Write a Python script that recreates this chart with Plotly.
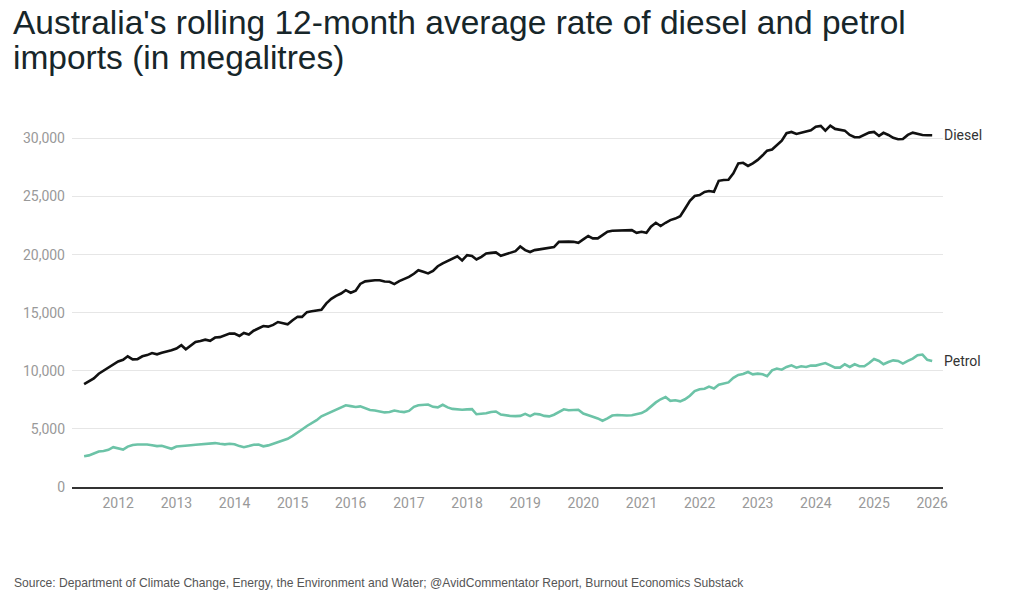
import pandas as pd
import plotly.graph_objects as go

# Monthly, Jun 2011 - Jan 2026
months = pd.date_range("2011-06-01", periods=176, freq="MS")

diesel = [
    8850, 9100, 9350, 9750, 10000, 10300, 10550, 10800, 10950, 11250, 10980, 11000,
    11250, 11350, 11530, 11420, 11550, 11650, 11770, 11920, 12200, 11850, 12150, 12480,
    12570, 12680, 12580, 12860, 12900, 13050, 13200, 13200, 13000, 13260, 13120, 13450,
    13640, 13850, 13800, 13950, 14200, 14070, 14010, 14350, 14650, 14640, 15050, 15130,
    15180, 15250, 15800, 16200, 16450, 16650, 16940, 16720, 16900, 17480, 17700, 17780,
    17800, 17800, 17680, 17660, 17460, 17720, 17880, 18080, 18350, 18660, 18520, 18380,
    18600, 19000, 19250, 19450, 19700, 19850, 19500, 19950, 19880, 19580, 19810, 20100,
    20150, 20190, 19900, 20040, 20150, 20300, 20700, 20390, 20220, 20390, 20450, 20500,
    20550, 20650, 21100, 21140, 21120, 21100, 21020, 21310, 21600, 21400, 21400, 21680,
    21970, 22050, 22050, 22060, 22050, 22110, 21880, 21970, 21880, 22400, 22740, 22460,
    22740, 22970, 23100, 23300, 23950, 24640, 25040, 25130, 25400, 25470, 25410, 26350,
    26420, 26450, 27000, 27850, 27900, 27630, 27860, 28150, 28550, 28950, 29050, 29440,
    29810, 30450, 30560, 30390, 30500, 30550, 30700, 31000, 31080, 30670, 31100, 30820,
    30730, 30670, 30300, 30100, 30100, 30280, 30500, 30560, 30215, 30480, 30300, 30050,
    29930, 29950, 30300, 30500, 30390, 30300, 30280, 30270,
]

petrol = [
    2650, 2720, 2880, 3050, 3100, 3200, 3430, 3350, 3220, 3480, 3620, 3660,
    3670, 3660, 3590, 3520, 3550, 3440, 3290, 3480, 3540, 3560, 3600, 3640,
    3660, 3700, 3740, 3780, 3720, 3670, 3720, 3680, 3520, 3430, 3530, 3640,
    3650, 3500, 3580, 3720, 3900, 4050, 4150, 4400, 4650, 4950, 5250, 5500,
    5750, 6080, 6280, 6480, 6650, 6820, 7030, 6960, 6890, 6940, 6800, 6630,
    6590, 6500, 6420, 6450, 6580, 6500, 6450, 6550, 6900, 7030, 7050, 7100,
    6900, 6850, 7080, 6850, 6720, 6680, 6650, 6680, 6700, 6260, 6300, 6350,
    6450, 6500, 6230, 6160, 6110, 6100, 6120, 6300, 6100, 6300, 6250, 6120,
    6080, 6220, 6450, 6690, 6600, 6620, 6650, 6320, 6200, 6050, 5900, 5700,
    5900, 6150, 6200, 6160, 6160, 6180, 6240, 6360, 6600, 6950, 7280, 7550,
    7740, 7420, 7460, 7370, 7550, 7850, 8250, 8420, 8460, 8640, 8480, 8800,
    8930, 9000, 9400, 9650, 9720, 9900, 9700, 9760, 9700, 9530, 10040, 10190,
    10100, 10330, 10470, 10270, 10390, 10330, 10450, 10450, 10560, 10670, 10470, 10270,
    10270, 10560, 10330, 10560, 10390, 10390, 10670, 11020, 10850, 10560, 10760, 10900,
    10850, 10620, 10850, 11050, 11340, 11400, 10950, 10850,
]

year_ticks = [f"{y}-01-01" for y in range(2012, 2027)]
year_labels = [str(y) for y in range(2012, 2027)]
y_ticks = [0, 5000, 10000, 15000, 20000, 25000, 30000]
y_labels = ["0", "5,000", "10,000", "15,000", "20,000", "25,000", "30,000"]

title_lines = [
    "Australia's rolling 12-month average rate of diesel and petrol",
    "imports (in megalitres)",
]
source = ("Source: Department of Climate Change, Energy, the Environment and Water; "
          "@AvidCommentator Report, Burnout Economics Substack")

DIESEL_C = "#111111"
PETROL_C = "#6cc3a7"

fig = go.Figure()
fig.add_trace(go.Scatter(x=months, y=diesel, mode="lines", name="Diesel",
                         line=dict(color=DIESEL_C, width=2.6)))
fig.add_trace(go.Scatter(x=months, y=petrol, mode="lines", name="Petrol",
                         line=dict(color=PETROL_C, width=2.6)))

W, H = 1024, 599
ml, mr, mt, mb = 72, 81, 121, 112
ph = H - mt - mb
pw = W - ml - mr

def py(ypx):
    return (H - mb - ypx) / ph

def px(xpx):
    return (xpx - ml) / pw

ann = []
ann.append(dict(x=px(11), y=py(23), xref="paper", yref="paper", text=title_lines[0],
                showarrow=False, xanchor="left", yanchor="middle",
                font=dict(family="Liberation Sans, Arial", size=33.5, color="#17262a")))
ann.append(dict(x=px(11), y=py(58), xref="paper", yref="paper", text=title_lines[1],
                showarrow=False, xanchor="left", yanchor="middle",
                font=dict(family="Liberation Sans, Arial", size=33.5, color="#17262a")))
ann.append(dict(x=px(12), y=py(583), xref="paper", yref="paper", text=source,
                showarrow=False, xanchor="left", yanchor="middle",
                font=dict(family="Liberation Sans, Arial", size=12.1, color="#555555")))
ann.append(dict(x=months[-1], y=diesel[-1], xref="x", yref="y", text="Diesel",
                showarrow=False, xanchor="left", yanchor="middle", xshift=10,
                font=dict(family="Roboto", size=14, color="#333333")))
ann.append(dict(x=months[-1], y=petrol[-1], xref="x", yref="y", text="Petrol",
                showarrow=False, xanchor="left", yanchor="middle", xshift=10,
                font=dict(family="Roboto", size=14, color="#333333")))

fig.update_layout(
    width=W, height=H,
    margin=dict(l=ml, r=mr, t=mt, b=mb),
    paper_bgcolor="white", plot_bgcolor="white",
    showlegend=False,
    annotations=ann,
    xaxis=dict(
        range=["2011-03-17", "2026-03-10"],
        tickvals=year_ticks, ticktext=year_labels,
        showgrid=False, zeroline=False,
        showline=True, linecolor="#333333", linewidth=2,
        ticks="", ticklabelstandoff=2,
        tickfont=dict(family="Roboto", size=14, color="#999999"),
    ),
    yaxis=dict(
        range=[0, 31500],
        tickvals=y_ticks, ticktext=y_labels,
        showgrid=True, gridcolor="#e6e6e6", gridwidth=1,
        zeroline=False, showline=False, ticks="",
        ticklabelstandoff=6,
        tickfont=dict(family="Roboto", size=14, color="#999999"),
    ),
)

fig.write_html("out.html", config={"displayModeBar": False})
